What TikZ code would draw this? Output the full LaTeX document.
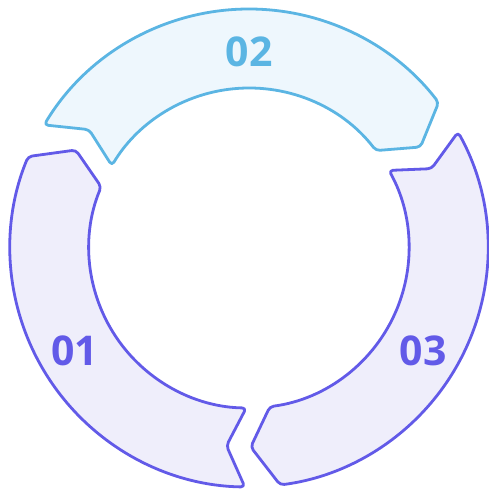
\documentclass[tikz,border=0pt]{standalone}
\usepackage{fontspec}
\setsansfont{Open Sans}
\usepackage{tikz}
\usetikzlibrary{calc}
\definecolor{stepblue}{RGB}{91,181,227}
\definecolor{stepbluefill}{RGB}{238,247,253}
\definecolor{steppurple}{RGB}{98,90,232}
\definecolor{steppurplefill}{RGB}{239,238,251}
\tikzset{
    cyclepart/.style={line width=2.8pt, rounded corners=4pt, line join=round},
    cyclelabel/.style={font=\sffamily\bfseries\fontsize{41}{41}\selectfont, inner sep=0pt}
}

\begin{document}
\begin{tikzpicture}[x=1pt, y=1pt]
\useasboundingbox (0,0) rectangle (489,488);
\coordinate (c) at (249,240);

% Three arrow segments round the cycle: tail angle / stroke / fill / label position / text
\foreach \tail/\col/\fil/\lab/\txt in {269/steppurple/steppurplefill/210.5:202/01,
                                         149/stepblue/stepbluefill/90:196/02,
                                         29/steppurple/steppurplefill/329.5:202/03} {
    \pgfmathsetmacro{\head}{\tail-111.5}
    \pgfmathsetmacro{\tip}{\tail-118.5}
    \pgfmathsetmacro{\notch}{\tail-5.5}
    \draw[cyclepart, draw=\col, fill=\fil]
        ($(c)+(\tail:239)$) arc[start angle=\tail, end angle=\head, radius=239]
        -- ($(c)+(\tip:199)$)
        -- ($(c)+(\head:160)$) arc[start angle=\head, end angle=\tail, radius=160]
        -- ($(c)+(\notch:199)$) -- cycle;
    \node[cyclelabel, text=\col] (label\txt) at ($(c)+(\lab)$) {\txt};
}
\end{tikzpicture}
\end{document}
